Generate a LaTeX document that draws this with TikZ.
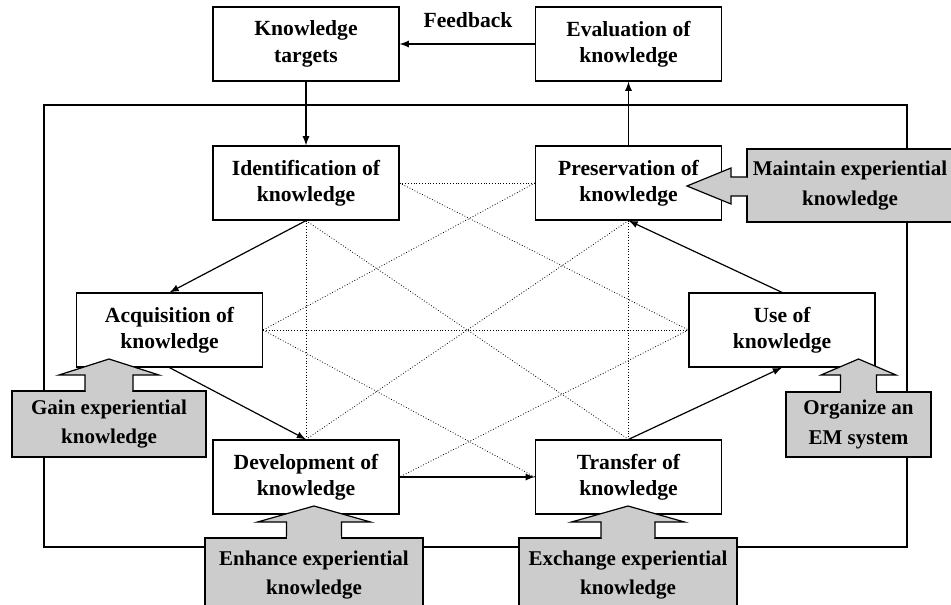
\documentclass[tikz,border=0pt]{standalone}
\usepackage{fontspec}
\setmainfont{Liberation Serif}
\usetikzlibrary{calc}

\definecolor{boxgray}{gray}{0.8}

\begin{document}
\begin{tikzpicture}[
            x=0.5pt, y=-0.5pt, >=latex, line width=0.6pt,
            stage/.style={draw, fill=white, minimum width=93pt, minimum height=37pt,
                inner sep=0pt, align=center, font=\bfseries\fontsize{10.8}{13.2}\selectfont},
            task/.style={draw, fill=boxgray, inner sep=0pt, align=center,
                font=\bfseries\fontsize{10.5}{14.8}\selectfont},
            link/.style={line width=0.4pt, densely dotted},
    ]
    \clip (0,0) rectangle (951,604);

    % outer frame
    \draw (44,105) rectangle (907,547);

    % stages
    \node[stage] (targets) at (306,44) {Knowledge\\targets};
    \node[stage] (eval) at (628.5,44) {Evaluation of\\knowledge};
    \node[stage] (ident) at (306,183) {Identification of\\knowledge};
    \node[stage] (pres) at (628.5,183) {Preservation of\\knowledge};
    \node[stage] (acq) at (169.5,330) {Acquisition of\\knowledge};
    \node[stage] (use) at (782,330) {Use of\\knowledge};
    \node[stage] (dev) at (306,477) {Development of\\knowledge};
    \node[stage] (trans) at (628.5,477) {Transfer of\\knowledge};

    \node[font=\bfseries\fontsize{10.8}{13.2}\selectfont] (fb) at (468,20) {Feedback};

    % dotted links
    \draw[link] (ident.east) -- (pres.west);
    \draw[link] (ident.east) -- (use.west);
    \draw[link] (ident.south) -- (dev.north);
    \draw[link] (ident.south) -- (trans.north);
    \draw[link] (pres.west) -- (acq.east);
    \draw[link] (pres.south) -- (dev.north);
    \draw[link] (pres.south) -- (trans.north);
    \draw[link] (acq.east) -- (use.west);
    \draw[link] (acq.east) -- (trans.west);
    \draw[link] (use.west) -- (dev.east);

    % solid arrows
    \draw[->] (targets.south) -- (ident.north);
    \draw[->] (pres.north) -- (eval.south);
    \draw[->] (eval.west) -- (targets.east);
    \draw[->] (ident.south) -- (acq.north);
    \draw[->] (acq.south) -- (dev.north);
    \draw[->] (dev.east) -- (trans.west);
    \draw[->] (trans.north) -- (use.south);
    \draw[->] (use.north) -- (pres.south);

    % experiential tasks
    \node[task, minimum width=97pt, minimum height=33pt] (gain) at (109,424)
        {Gain experiential\\knowledge};
    \node[task, minimum width=72.5pt, minimum height=32.5pt] (org) at (858.5,424.5)
        {Organize an\\EM system};
    \node[task, minimum width=109pt, minimum height=37pt] (enh) at (314,575)
        {Enhance experiential\\knowledge};
    \node[task, minimum width=109pt, minimum height=37pt] (exch) at (628,575)
        {Exchange experiential\\knowledge};
    \node[task, minimum width=103pt, minimum height=36.5pt] (maint) at (850,185.5)
        {Maintain experiential\\knowledge};

    % big arrows
    \filldraw[fill=boxgray] (85,391) -- (85,375) -- (59,375) -- (109,359)
        -- (159,375) -- (133,375) -- (133,391);
    \fill[boxgray] (85.7,389) rectangle (132.3,393);

    \filldraw[fill=boxgray] (840.5,392) -- (840.5,375) -- (821,375) -- (858.5,359)
        -- (896,375) -- (876.5,375) -- (876.5,392);
    \fill[boxgray] (841.2,390) rectangle (875.8,394);

    \filldraw[fill=boxgray] (286.5,538) -- (286.5,522) -- (257.5,522) -- (314,506)
        -- (370.5,522) -- (341.5,522) -- (341.5,538);
    \fill[boxgray] (287.2,536) rectangle (340.8,540);

    \filldraw[fill=boxgray] (601,538) -- (601,522) -- (571.5,522) -- (628,506)
        -- (684.5,522) -- (655,522) -- (655,538);
    \fill[boxgray] (601.7,536) rectangle (654.3,540);

    \filldraw[fill=boxgray] (747,177) -- (731,177) -- (731,168) -- (687,186)
        -- (731,204) -- (731,196) -- (747,196);
    \fill[boxgray] (745,177.7) rectangle (749,195.3);
\end{tikzpicture}
\end{document}
